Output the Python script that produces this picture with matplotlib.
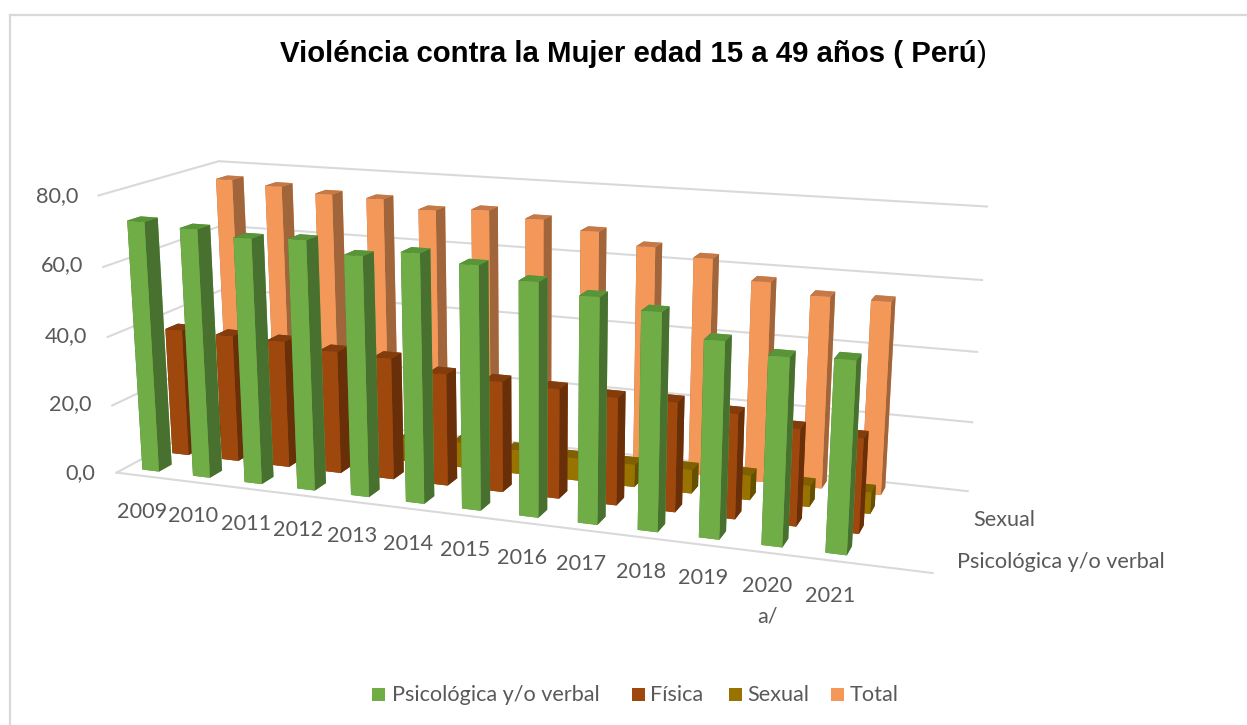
import numpy as np
import matplotlib
matplotlib.use("Agg")
import matplotlib.pyplot as plt
from matplotlib.patches import Rectangle
from mpl_toolkits.mplot3d import Axes3D  # noqa

years = ["2009", "2010", "2011", "2012", "2013", "2014", "2015", "2016", "2017", "2018", "2019", "2020\na/", "2021"]
psico = [72.5, 71.5, 70.0, 70.7, 67.5, 69.4, 67.4, 64.2, 61.5, 58.9, 52.8, 50.1, 50.8]
fisica = [37.8, 37.5, 37.3, 35.8, 35.3, 32.3, 31.7, 31.2, 30.4, 30.7, 29.2, 26.8, 26.0]
sexual = [8.0, 8.0, 7.5, 7.5, 7.0, 7.5, 7.0, 6.5, 6.5, 6.8, 7.0, 6.0, 6.0]
total = [76.6, 75.5, 74.1, 73.7, 71.4, 72.4, 70.8, 68.4, 65.1, 63.0, 57.6, 54.8, 54.7]
series_names = ["Psicológica y/o verbal", "Física", "Sexual", "Total"]
z_ticks = [0, 20, 40, 60, 80]
z_labels = ["0,0", "20,0", "40,0", "60,0", "80,0"]

W, H = 1247, 725
FONT = "Lato"
GREY = "#595959"
GRID = "#D9D9D9"
series_vals = [psico, fisica, sexual, total]
face_cols = [("#70AD47", "#5A9438", "#48702E"),
             ("#9E480E", "#833C0B", "#682F09"),
             ("#997300", "#806000", "#665000"),
             ("#F4985A", "#C47A48", "#A0653A")]
BX, BW, BY, BD = 0.33, 0.33, 0.30, 0.42
XMAX = 14

fig = plt.figure(figsize=(W / 100, H / 100), dpi=100, facecolor="white")
ax = fig.add_axes([0, (H - W) / 2 / H, 1, W / H], projection="3d")
ax.set_axis_off()
ax.computed_zorder = False
fig.canvas.draw()

# camera fitted to the picture: (X, Y, Z) -> pixel
FR = BX + BW
corr = [((0, 0, 0), (117, 472)), ((0, 0, 20), (112, 405)), ((0, 0, 40), (108, 337)),
        ((0, 0, 60), (103, 267)), ((0, 0, 80), (98, 196)),
        ((0, 4, 80), (219, 161)), ((0, 4, 60), (222, 226)),
        ((XMAX, 4, 80), (987, 206)), ((XMAX, 4, 60), (982, 280)), ((XMAX, 4, 40), (977, 352)),
        ((XMAX, 4, 20), (972, 422)), ((XMAX, 4, 0), (968, 492)), ((XMAX, 0, 0), (933, 573)),
        ((BX, BY, 0), (143, 469)), ((1 + BX, BY, 0), (193, 475)), ((2 + BX, BY, 0), (245, 483)),
        ((3 + BX, BY, 0), (297, 489)), ((4 + BX, BY, 0), (352, 496)),
        ((11 + BX, BY, 0), (762, 545)), ((12 + BX, BY, 0), (825, 553)),
        ((BX, 1 + BY, 0), (172, 453)), ((FR, 1 + BY, 0), (187, 455)),
        ((12 + FR, BY, 0), (846, 555)), ((12 + FR, 1 + BY, 0), (861, 534)),
        ((12 + FR, 2 + BY, 0), (869, 514)), ((12 + FR, 3 + BY, 0), (880, 495)),
        ((11 + FR, BY, 0), (781, 547)), ((11 + FR, 1 + BY, 0), (796, 527)),
        ((11 + FR, 2 + BY, 0), (811, 507)), ((11 + FR, 3 + BY, 0), (822, 488))]
rows = []
for (X, Y, Z), (px, py) in corr:
    Z = Z / 20.0
    p = [X, Y, Z, 1]
    py = H - py
    rows.append([*p, 0, 0, 0, 0, *[-px / 500 * v for v in p]])
    rows.append([0, 0, 0, 0, *p, *[-py / 500 * v for v in p]])
_, _, vt = np.linalg.svd(np.array(rows, float))
P = vt[-1].reshape(3, 4)
P[:2] *= 500
P[:, 2] /= 20.0
if P[2, 3] < 0:
    P = -P
S = ax.transData.inverted().get_matrix()
Q = S @ P
M = np.array([Q[0], Q[1], [0, 0, 0, -1.0], Q[2]])
ax.get_proj = lambda: M

# walls and floor (no edge along the right side of the floor)
for z in z_ticks:
    ax.plot([0, 0, XMAX], [0, 4, 4], [z, z, z], color=GRID, lw=1.5, zorder=1)
ax.plot([0, XMAX], [0, 0], [0, 0], color=GRID, lw=1.5, zorder=1)

# bars: back series first, right-hand bars first
zo = 10
for s in range(3, -1, -1):
    front, top, side = face_cols[s]
    for k in range(12, -1, -1):
        c = ax.bar3d(k + BX, s + BY, 0, BW, BD, series_vals[s][k], shade=False,
                     color=[top, top, front, front, side, side], linewidth=0, edgecolor="none")
        c.set_zorder(zo)
        zo += 1


def pix_text(x, y, s, **kw):
    kw.setdefault("family", FONT)
    kw.setdefault("color", GREY)
    kw.setdefault("fontsize", 15.6)
    kw.setdefault("ha", "center")
    kw.setdefault("va", "center")
    fig.text(x / W, 1 - (y + 1.5) / H, s, **kw)


# frame
for xs, ys in [((9.5, 9.5), (14.5, 725)), ((9.5, W), (14.5, 14.5))]:
    fig.add_artist(plt.Line2D([x / W for x in xs], [1 - y / H for y in ys], color="#D9D9D9", lw=1.6))

pix_text(280, 53, "Violéncia contra la Mujer edad 15 a 49 años ( Perú", family="Liberation Sans",
         weight="bold", color="black", fontsize=21.15, ha="left")
pix_text(977, 53, ")", family="Liberation Sans", color="black", fontsize=21.15, ha="left")

for lab, rx, y in zip(z_labels, [95, 91, 87, 83, 78], [472, 403, 335, 264, 195]):
    pix_text(rx, y, lab, ha="right")

xc = [142, 193, 246, 298, 352, 408, 465, 522, 581, 641, 703, 767, 830]
yc = [510, 514, 522, 528, 535, 542, 549, 556, 563, 570, 577, 585, 594]
for lab, x, y in zip(years, xc, yc):
    parts = lab.split("\n")
    for i, t in enumerate(parts):
        pix_text(x, y + i * 30, t)

pix_text(1004, 519, "Sexual")
pix_text(1061, 561, series_names[0])

for name, (fc, _, _), sx, tx in zip(series_names, face_cols, [372, 632, 729, 831], [392, 650, 747, 850]):
    fig.add_artist(Rectangle((sx / W, 1 - 701 / H), 13 / W, 13 / H, transform=fig.transFigure, color=fc, lw=0))
    pix_text(tx, 693.5, name, ha="left")

fig.savefig("out.png", dpi=100, facecolor="white")
